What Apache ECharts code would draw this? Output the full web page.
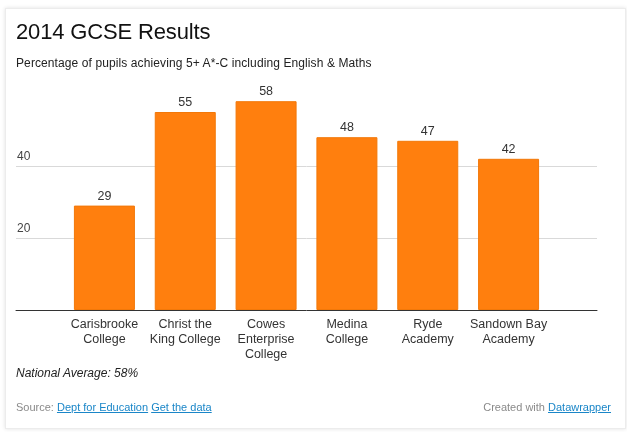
<!DOCTYPE html>
<html>
<head>
<meta charset="utf-8">
<script src="https://cdn.jsdelivr.net/npm/echarts@6/dist/echarts.min.js"></script>
<style>
  html, body { margin: 0; padding: 0; background: #fff; width: 627px; height: 432px; overflow: hidden; }
  body { font-family: Arial, "Liberation Sans", Helvetica, sans-serif; position: relative; }
  #card { position: absolute; left: 5px; top: 8px; width: 619px; height: 419px; background: #fff;
          border: 1px solid #ececec; box-shadow: 0 0 4px rgba(0,0,0,0.12); }
  #chart { position: absolute; left: 0; top: 0; width: 627px; height: 432px; }
  .t { position: absolute; white-space: nowrap; line-height: 1; }
  #title { left: 16px; top: 20.5px; font-size: 22px; color: #111; letter-spacing: -0.15px; }
  #sub { left: 16px; top: 56.5px; font-size: 12px; color: #222; letter-spacing: 0.1px; }
  #note { left: 16px; top: 366.5px; font-size: 12px; color: #222; font-style: italic; }
  #src { left: 16px; top: 401.7px; font-size: 11px; color: #8a8a8a; }
  #credit { right: 16px; top: 401.7px; font-size: 11px; color: #8a8a8a; }
  a { color: #1a86c8; text-decoration: underline; }
</style>
</head>
<body>
<div id="card"></div>
<div id="chart"></div>
<div class="t" id="title">2014 GCSE Results</div>
<div class="t" id="sub">Percentage of pupils achieving 5+ A*-C including English &amp; Maths</div>
<div class="t" id="note">National Average: 58%</div>
<div class="t" id="src">Source: <a href="#">Dept for Education</a> <a href="#">Get the data</a></div>
<div class="t" id="credit">Created with <a href="#">Datawrapper</a></div>
<script>
const categories = ["Carisbrooke\nCollege", "Christ the\nKing College", "Cowes\nEnterprise\nCollege", "Medina\nCollege", "Ryde\nAcademy", "Sandown Bay\nAcademy"];
const values = [29, 55, 58, 48, 47, 42];
const yTicks = { min: 0, max: 60, interval: 20 };

const font = 'Arial, "Liberation Sans", Helvetica, sans-serif';
const chart = echarts.init(document.getElementById('chart'), null, { renderer: 'canvas' });
chart.setOption({
  animation: false,
  backgroundColor: 'transparent',
  textStyle: { fontFamily: font },
  grid: [
    { left: 16, right: 30, top: 94, bottom: 122, containLabel: false },
    { left: 64, right: 78, top: 94, bottom: 122, containLabel: false }
  ],
  xAxis: [
    { gridIndex: 0, type: 'value', min: 0, max: 1,
      axisLine: { show: true, onZero: false, lineStyle: { color: '#333', width: 1 } },
      axisTick: { show: false }, axisLabel: { show: false }, splitLine: { show: false } },
    { gridIndex: 1, type: 'category', data: categories,
      axisLine: { show: false }, axisTick: { show: false }, splitLine: { show: false },
      axisLabel: { interval: 0, margin: 7, fontSize: 12.5, lineHeight: 15, color: '#333', fontFamily: font, align: 'center' } }
  ],
  yAxis: [
    { gridIndex: 0, type: 'value', min: yTicks.min, max: yTicks.max, interval: yTicks.interval,
      axisLine: { show: false }, axisTick: { show: false },
      splitLine: { show: true, showMinLine: false, showMaxLine: false, lineStyle: { color: '#d9d9d9', width: 1 } },
      axisLabel: { inside: true, margin: 1, align: 'left', verticalAlign: 'bottom', padding: [0, 0, 3, 0],
                   showMinLabel: false, showMaxLabel: false, fontSize: 12, color: '#444', fontFamily: font } },
    { gridIndex: 1, type: 'value', min: yTicks.min, max: yTicks.max, interval: yTicks.interval, show: false,
      splitLine: { show: false } }
  ],
  series: [{
    type: 'bar', xAxisIndex: 1, yAxisIndex: 1, data: values, barWidth: 61,
    itemStyle: { color: '#ff7f0e', borderColor: '#f27809', borderWidth: 1 },
    label: { show: true, position: 'top', distance: 3, fontSize: 12.5, color: '#333', fontFamily: font }
  }]
});
</script>
</body>
</html>
